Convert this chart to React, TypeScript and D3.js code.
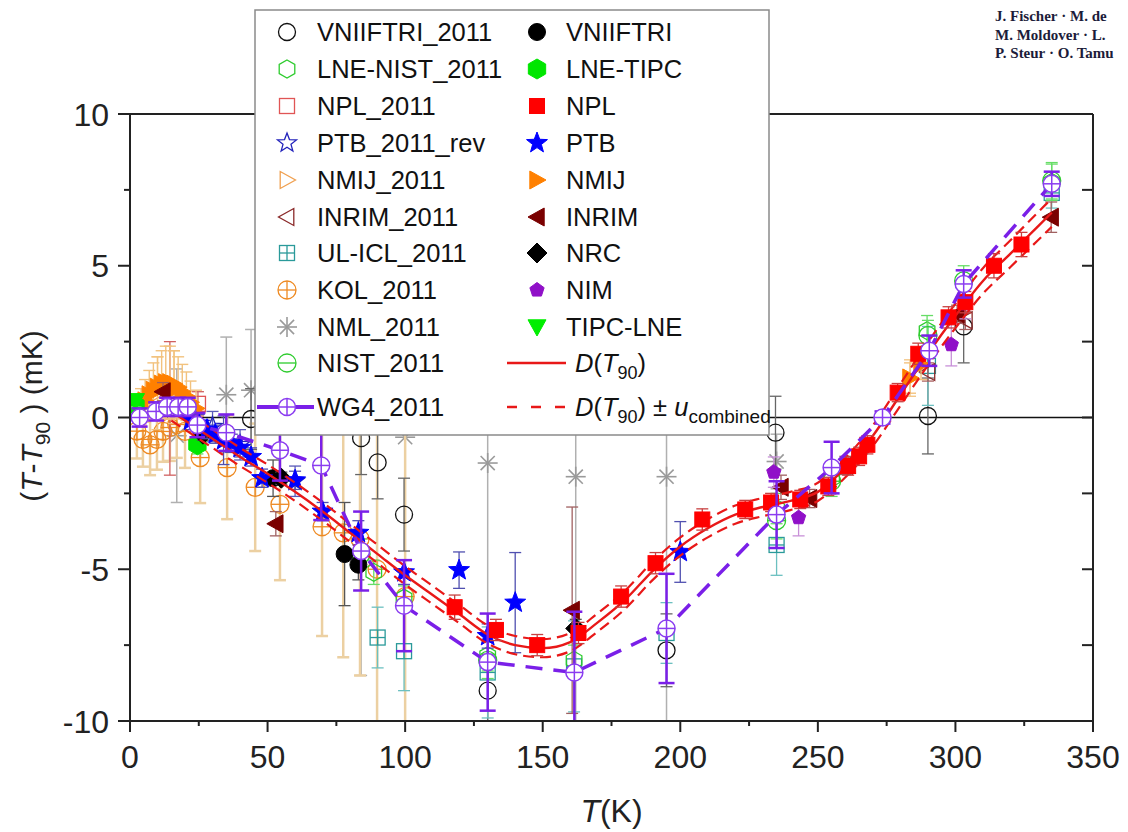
import React from 'react';
import * as d3 from 'd3';

// ---------------- axes ----------------
const xTickValues = [0, 50, 100, 150, 200, 250, 300, 350];
const xMinorValues = [25, 75, 125, 175, 225, 275, 325];
const yTickValues = [-10, -5, 0, 5, 10];
const yMinorValues = [-7.5, -2.5, 2.5, 7.5];

// ---------------- D(T90) consensus curve ----------------
const dT90_T = [15, 20, 30, 40, 50, 60, 70, 80, 90, 100, 110, 120, 130, 140, 150, 160, 170, 180, 190, 200, 210, 220, 230, 240, 250, 260, 270, 280, 290, 300, 310, 320, 330, 335];
const dT90_V = [0.2, -0.1, -0.7, -1.3, -1.85, -2.45, -3.1, -3.8, -4.5, -5.2, -5.85, -6.5, -7.15, -7.5, -7.6, -7.4, -6.75, -6.0, -5.05, -4.25, -3.65, -3.2, -2.95, -2.75, -2.45, -1.65, -0.6, 0.75, 2.1, 3.35, 4.5, 5.4, 6.3, 6.75];
const dT90_U = [0.3, 0.3, 0.3, 0.3, 0.3, 0.3, 0.3, 0.3, 0.3, 0.3, 0.3, 0.3, 0.3, 0.3, 0.3, 0.3, 0.3, 0.3, 0.3, 0.3, 0.3, 0.3, 0.3, 0.3, 0.3, 0.32, 0.34, 0.36, 0.38, 0.4, 0.42, 0.44, 0.46, 0.47];

// ---------------- data series (T in K, value in mK, error in mK) ----------------
const nml2011_T = [17, 35, 44, 84, 100, 130, 162, 195, 235];
const nml2011_V = [-0.6, 0.75, 0.9, 1.5, -0.65, -1.5, -1.95, -1.95, -1.45];
const nml2011_E = [2.2, 1.9, 2.0, 10, 9.5, 9.5, 9.5, 9.5, 0.9];

const kol2011_T = [2.5, 4.7, 7.3, 9.8, 12, 14.5, 17, 20, 25.5, 35.3, 45.5, 54.5, 69.8, 77.5, 83.6, 89.8, 100];
const kol2011_V = [-0.45, -0.72, -0.9, -0.72, -0.46, -0.33, -0.23, -0.46, -1.32, -1.65, -2.3, -2.86, -3.6, -3.8, -4.0, -5.0, -5.9];
const kol2011_E = [0.9, 0.9, 1.0, 1.0, 1.0, 1.1, 1.1, 1.2, 1.5, 1.7, 2.1, 2.5, 3.6, 4.1, 4.5, 6, 7];

const vniiftri2011_T = [44, 84, 90, 99.6, 130, 195, 234.6, 290, 303];
const vniiftri2011_V = [-0.05, -0.68, -1.48, -3.2, -9.0, -7.67, -0.5, 0.05, 3.0];
const vniiftri2011_E = [1.0, 1.2, 1.2, 1.2, 1.2, 1.2, 1.2, 1.25, 1.2];

const ulicl2011_T = [90, 99.6, 130, 161.4, 195, 235, 290, 335];
const ulicl2011_V = [-7.25, -7.7, -8.4, -8.2, -7.1, -4.2, 1.7, 7.4];
const ulicl2011_E = [1.0, 1.3, 1.5, 1.5, 1.0, 1.0, 1.3, 0.5];

const lnenist2011_T = [88.6, 99.6, 130, 161.4, 235, 255, 289.7, 335];
const lnenist2011_V = [-5.1, -5.95, -7.85, -8.0, -3.0, -2.0, 2.86, 7.75];
const lnenist2011_E = [0.4, 0.4, 0.5, 0.5, 0.5, 0.5, 0.5, 0.6];

const nist2011_T = [84, 130, 235, 255, 290, 303, 335];
const nist2011_V = [-4.5, -8.0, -3.4, -2.1, 2.7, 4.5, 7.8];
const nist2011_E = [0.5, 0.6, 0.6, 0.5, 0.5, 0.5, 0.6];

const npl2011_T = [14.5, 24.7];
const npl2011_V = [0.3, 0.45];
const npl2011_E = [2.2, 0.4];

const ptb2011_T = [30, 40, 60];
const ptb2011_V = [-0.3, -0.9, -2.1];
const ptb2011_E = [0.5, 0.5, 0.5];

const nmij2011_T = [10, 16, 283.5];
const nmij2011_V = [0.8, 1.0, 1.3];
const nmij2011_E = [1.2, 1.2, 0.6];

const inrim2011_T = [290, 303.6];
const inrim2011_V = [1.5, 3.2];
const inrim2011_E = [0.3, 0.3];

const nmij_T = [4, 5.5, 7, 8.5, 10, 11.5, 13, 14.5, 16, 17.5, 19, 20.5, 22, 24, 283.5, 287.5];
const nmij_V = [0.35, 0.55, 0.75, 0.9, 1.0, 1.1, 1.15, 1.15, 1.1, 1.0, 0.85, 0.7, 0.5, 0.3, 1.3, 1.75];
const nmij_E = [0.6, 0.7, 0.8, 0.9, 1.0, 1.1, 1.2, 1.2, 1.1, 1.0, 0.9, 0.8, 0.7, 0.6, 0.5, 0.5];

const lnetipc_T = [2, 24.5];
const lnetipc_V = [0.4, -0.9];
const lnetipc_E = [0.3, 0.3];

const tipclne_T = [2];
const tipclne_V = [0.55];
const tipclne_E = [0.2];

const vniiftri_T = [52, 78, 83];
const vniiftri_V = [-2.0, -4.5, -4.85];
const vniiftri_E = [0.6, 1.7, 0.5];

const nrc_T = [26.5, 55, 162];
const nrc_V = [-0.55, -2.0, -6.95];
const nrc_E = [0.2, 0.2, 0.3];

const inrim_T = [12, 53, 160.7, 236.6, 247, 260, 300.6, 334.8];
const inrim_V = [0.85, -3.5, -6.35, -2.3, -2.67, -1.58, 3.4, 6.6];
const inrim_E = [0.3, 0.4, 3.4, 0.4, 0.3, 0.3, 0.3, 0.5];

const nim_T = [234, 243, 298.5, 303.6];
const nim_V = [-1.8, -3.3, 2.4, 3.75];
const nim_E = [0.5, 0.6, 0.7, 0.5];

const ptb_T = [22, 25, 28, 31, 34, 37, 40, 44, 48, 60, 70, 83, 99.6, 119.6, 130, 140, 200];
const ptb_V = [-0.1, -0.2, -0.4, -0.55, -0.75, -0.85, -1.0, -1.3, -2.0, -2.07, -3.1, -3.8, -5.1, -5.03, -7.2, -6.1, -4.43];
const ptb_E = [0.3, 0.3, 0.3, 0.3, 0.8, 0.3, 0.3, 0.3, 0.3, 0.3, 0.3, 0.4, 0.4, 0.6, 0.4, 1.65, 1.0];

const npl_T = [118, 133, 148, 163, 178.5, 191, 208, 223.6, 233, 243.6, 253.8, 261, 265, 268, 279, 286.5, 297.5, 303.6, 314, 324];
const npl_V = [-6.25, -7.0, -7.5, -7.1, -5.9, -4.8, -3.36, -3.03, -2.8, -2.7, -2.27, -1.6, -1.28, -0.9, 0.82, 2.1, 3.3, 3.8, 5.0, 5.7];
const npl_E = [0.4, 0.35, 0.35, 0.35, 0.35, 0.35, 0.35, 0.3, 0.3, 0.3, 0.3, 0.3, 0.3, 0.3, 0.3, 0.35, 0.35, 0.35, 0.4, 0.4];

const wg4_T = [3.5, 9.5, 13.5, 17.5, 21, 24.5, 35, 54.5, 69.5, 84, 99.6, 130, 161.5, 195, 235, 255, 273.5, 290.5, 303, 335];
const wg4_V = [0.0, 0.2, 0.35, 0.35, 0.35, -0.25, -0.5, -1.08, -1.58, -4.4, -6.2, -8.06, -8.4, -6.95, -3.2, -1.65, 0.0, 2.2, 4.4, 7.7];
const wg4_E = [0.3, 0.3, 0.3, 0.3, 0.3, 0.4, 0.6, 1.0, 1.8, 1.3, 1.5, 1.6, 2.0, 1.8, 1.1, 0.85, 0.2, 0.5, 0.45, 0.4];

// ---------------- legend labels ----------------
const legendCol1 = ['VNIIFTRI_2011', 'LNE-NIST_2011', 'NPL_2011', 'PTB_2011_rev', 'NMIJ_2011', 'INRIM_2011', 'UL-ICL_2011', 'KOL_2011', 'NML_2011', 'NIST_2011', 'WG4_2011'];
const legendCol2 = ['VNIIFTRI', 'LNE-TIPC', 'NPL', 'PTB', 'NMIJ', 'INRIM', 'NRC', 'NIM', 'TIPC-LNE'];

const NB = '\u00A0';
const headerLines = [`J. Fischer${NB}·${NB}M.${NB}de`, `M. Moldover${NB}·${NB}L.`, `P. Steur${NB}·${NB}O. Tamu`];

type Style = { shape: string; stroke: string; fill: string; r: number; sw: number; err: string; errW: number; cap: number };

const S: Record<string, Style> = {
  'NML_2011': { shape: 'asterisk', stroke: '#9a9a9a', fill: 'none', r: 10, sw: 1.6, err: '#b0b0b0', errW: 1.5, cap: 6 },
  'KOL_2011': { shape: 'circlePlus', stroke: '#ee8a22', fill: 'none', r: 9, sw: 1.3, err: '#ecd0a2', errW: 2.5, cap: 6 },
  'VNIIFTRI_2011': { shape: 'circle', stroke: '#111', fill: 'none', r: 8.5, sw: 1.3, err: '#666', errW: 1.3, cap: 6 },
  'UL-ICL_2011': { shape: 'squarePlus', stroke: '#2a9a9a', fill: 'none', r: 7.5, sw: 1.3, err: '#6cc0c0', errW: 1.3, cap: 6 },
  'LNE-NIST_2011': { shape: 'hex', stroke: '#2ecc2e', fill: 'none', r: 9, sw: 1.3, err: '#66dd66', errW: 1.3, cap: 6 },
  'NIST_2011': { shape: 'circleBar', stroke: '#2ecc2e', fill: 'none', r: 9, sw: 1.3, err: '#66dd66', errW: 1.3, cap: 6 },
  'NPL_2011': { shape: 'square', stroke: '#e05555', fill: 'none', r: 7.5, sw: 1.3, err: '#d06060', errW: 1.3, cap: 6 },
  'PTB_2011_rev': { shape: 'star', stroke: '#2222bb', fill: 'none', r: 10, sw: 1.3, err: '#5a5ab8', errW: 1.3, cap: 6 },
  'NMIJ_2011': { shape: 'triR', stroke: '#f0a050', fill: 'none', r: 8.5, sw: 1.3, err: '#f2c27e', errW: 1.3, cap: 6 },
  'INRIM_2011': { shape: 'triL', stroke: '#8b2a2a', fill: 'none', r: 8.5, sw: 1.3, err: '#a86060', errW: 1.3, cap: 6 },
  'NMIJ': { shape: 'triR', stroke: '#ff8000', fill: '#ff8000', r: 9, sw: 1, err: '#f2c27e', errW: 1.4, cap: 6 },
  'LNE-TIPC': { shape: 'hex', stroke: '#00e600', fill: '#00e600', r: 10, sw: 1, err: '#66dd66', errW: 1.3, cap: 6 },
  'TIPC-LNE': { shape: 'triD', stroke: '#00ee00', fill: '#00ee00', r: 9, sw: 1, err: '#66dd66', errW: 1.3, cap: 6 },
  'VNIIFTRI': { shape: 'circle', stroke: '#000', fill: '#000', r: 8.5, sw: 1, err: '#555', errW: 1.3, cap: 6 },
  'NRC': { shape: 'diamond', stroke: '#000', fill: '#000', r: 10, sw: 1, err: '#555', errW: 1.3, cap: 6 },
  'INRIM': { shape: 'triL', stroke: '#7a0000', fill: '#7a0000', r: 9, sw: 1, err: '#a06060', errW: 1.3, cap: 6 },
  'NIM': { shape: 'pent', stroke: '#9010c8', fill: '#9010c8', r: 7.5, sw: 1, err: '#c890d8', errW: 1.3, cap: 6 },
  'PTB': { shape: 'star', stroke: '#0000ff', fill: '#0000ff', r: 11, sw: 1, err: '#5050b0', errW: 1.3, cap: 6 },
  'NPL': { shape: 'square', stroke: '#ff0000', fill: '#ff0000', r: 7.5, sw: 1, err: '#c84040', errW: 1.3, cap: 6 },
  'WG4_2011': { shape: 'circlePlus', stroke: '#8a3cf0', fill: '#ffffff', r: 8.5, sw: 1.5, err: '#7a1fe8', errW: 2.5, cap: 8 },
};

const FONT = "'Liberation Sans', Arial, Helvetica, sans-serif";
const RED = '#e81818';
const PURPLE = '#7a1fe8';

function poly(n: number, r: number, start: number) {
  const pts: string[] = [];
  for (let i = 0; i < n; i++) {
    const a = start + (i * 2 * Math.PI) / n;
    pts.push(`${(r * Math.cos(a)).toFixed(2)},${(r * Math.sin(a)).toFixed(2)}`);
  }
  return pts.join(' ');
}
function starPts(r: number) {
  const pts: string[] = [];
  for (let i = 0; i < 10; i++) {
    const a = -Math.PI / 2 + (i * Math.PI) / 5;
    const rr = i % 2 ? r * 0.42 : r;
    pts.push(`${(rr * Math.cos(a)).toFixed(2)},${(rr * Math.sin(a)).toFixed(2)}`);
  }
  return pts.join(' ');
}

function Marker({ st, cx, cy }: { st: Style; cx: number; cy: number }) {
  const r = st.r;
  const p = { stroke: st.stroke, fill: st.fill, strokeWidth: st.sw };
  const ln = (x1: number, y1: number, x2: number, y2: number, k: string) => (
    <line key={k} x1={x1} y1={y1} x2={x2} y2={y2} stroke={st.stroke} strokeWidth={st.sw} />
  );
  let inner: React.ReactNode = null;
  switch (st.shape) {
    case 'circle':
      inner = <circle r={r} {...p} />;
      break;
    case 'circlePlus':
      inner = [<circle key="c" r={r} {...p} />, ln(-r, 0, r, 0, 'h'), ln(0, -r, 0, r, 'v')];
      break;
    case 'circleBar':
      inner = [<circle key="c" r={r} {...p} />, ln(-r, 0, r, 0, 'h')];
      break;
    case 'square':
      inner = <rect x={-r} y={-r} width={2 * r} height={2 * r} {...p} />;
      break;
    case 'squarePlus':
      inner = [<rect key="s" x={-r} y={-r} width={2 * r} height={2 * r} {...p} />, ln(-r, 0, r, 0, 'h'), ln(0, -r, 0, r, 'v')];
      break;
    case 'hex':
      inner = <polygon points={poly(6, r, -Math.PI / 2)} {...p} />;
      break;
    case 'pent':
      inner = <polygon points={poly(5, r, -Math.PI / 2)} {...p} />;
      break;
    case 'star':
      inner = <polygon points={starPts(r)} {...p} />;
      break;
    case 'triR':
      inner = <polygon points={`${-0.8 * r},${-r} ${r},0 ${-0.8 * r},${r}`} {...p} />;
      break;
    case 'triL':
      inner = <polygon points={`${0.8 * r},${-r} ${-r},0 ${0.8 * r},${r}`} {...p} />;
      break;
    case 'triD':
      inner = <polygon points={`${-r},${-0.8 * r} ${r},${-0.8 * r} 0,${r}`} {...p} />;
      break;
    case 'diamond':
      inner = <polygon points={`0,${-r} ${r},0 0,${r} ${-r},0`} {...p} />;
      break;
    case 'asterisk': {
      const d = r * 0.707;
      inner = [ln(-r, 0, r, 0, 'a'), ln(0, -r, 0, r, 'b'), ln(-d, -d, d, d, 'c'), ln(-d, d, d, -d, 'e')];
      break;
    }
  }
  return <g transform={`translate(${cx},${cy})`}>{inner}</g>;
}

type Series = { key: string; T: number[]; V: number[]; E: number[] };

const seriesBack: Series[] = [
  { key: 'NML_2011', T: nml2011_T, V: nml2011_V, E: nml2011_E },
  { key: 'KOL_2011', T: kol2011_T, V: kol2011_V, E: kol2011_E },
  { key: 'VNIIFTRI_2011', T: vniiftri2011_T, V: vniiftri2011_V, E: vniiftri2011_E },
  { key: 'UL-ICL_2011', T: ulicl2011_T, V: ulicl2011_V, E: ulicl2011_E },
  { key: 'LNE-NIST_2011', T: lnenist2011_T, V: lnenist2011_V, E: lnenist2011_E },
  { key: 'NIST_2011', T: nist2011_T, V: nist2011_V, E: nist2011_E },
  { key: 'NPL_2011', T: npl2011_T, V: npl2011_V, E: npl2011_E },
  { key: 'PTB_2011_rev', T: ptb2011_T, V: ptb2011_V, E: ptb2011_E },
  { key: 'NMIJ_2011', T: nmij2011_T, V: nmij2011_V, E: nmij2011_E },
  { key: 'INRIM_2011', T: inrim2011_T, V: inrim2011_V, E: inrim2011_E },
  { key: 'NMIJ', T: nmij_T, V: nmij_V, E: nmij_E },
  { key: 'LNE-TIPC', T: lnetipc_T, V: lnetipc_V, E: lnetipc_E },
  { key: 'TIPC-LNE', T: tipclne_T, V: tipclne_V, E: tipclne_E },
  { key: 'VNIIFTRI', T: vniiftri_T, V: vniiftri_V, E: vniiftri_E },
  { key: 'NRC', T: nrc_T, V: nrc_V, E: nrc_E },
  { key: 'INRIM', T: inrim_T, V: inrim_V, E: inrim_E },
  { key: 'NIM', T: nim_T, V: nim_V, E: nim_E },
  { key: 'PTB', T: ptb_T, V: ptb_V, E: ptb_E },
];
const seriesFront: Series[] = [
  { key: 'NPL', T: npl_T, V: npl_V, E: npl_E },
];
const wg4Series: Series = { key: 'WG4_2011', T: wg4_T, V: wg4_V, E: wg4_E };

export default function App() {
  const x = d3.scaleLinear().domain([0, 350]).range([130, 1093]);
  const y = d3.scaleLinear().domain([-10, 10]).range([721, 114]);
  const [x0, x1] = x.range();
  const [yb, yt] = y.range();

  const renderSeries = (s: Series) => {
    const st = S[s.key];
    return (
      <g key={s.key}>
        {s.T.map((t, i) => {
          const cx = x(t);
          const ya = y(s.V[i] + s.E[i]);
          const yc = y(s.V[i] - s.E[i]);
          return (
            <g key={'e' + i} stroke={st.err} strokeWidth={st.errW}>
              <line x1={cx} x2={cx} y1={ya} y2={yc} />
              <line x1={cx - st.cap} x2={cx + st.cap} y1={ya} y2={ya} />
              <line x1={cx - st.cap} x2={cx + st.cap} y1={yc} y2={yc} />
            </g>
          );
        })}
        {s.T.map((t, i) => (
          <Marker key={'m' + i} st={st} cx={x(t)} cy={y(s.V[i])} />
        ))}
      </g>
    );
  };

  const dLine = d3.line<number>().x((_, i) => x(dT90_T[i])).y((v) => y(v)).curve(d3.curveMonotoneX);
  const dMain = dLine(dT90_V) || '';
  const dUp = dLine(dT90_V.map((v, i) => v + dT90_U[i])) || '';
  const dLo = dLine(dT90_V.map((v, i) => v - dT90_U[i])) || '';
  const wg4Line = d3.line<number>().x((_, i) => x(wg4_T[i])).y((v) => y(v))(wg4_V) || '';

  const rowY = [32, 69, 106, 143, 180, 217, 253, 290, 327, 363, 407];
  const c1Sym = 287, c1Txt = 317, c2Sym = 537, c2Txt = 566;

  return (
    <svg width={1128} height={832} style={{ position: 'absolute', left: 0, top: 0, background: '#fff' }} fontFamily={FONT}>
      <rect x={0} y={0} width={1128} height={832} fill="#fff" />
      <defs>
        <clipPath id="plotClip">
          <rect x={x0} y={yt} width={x1 - x0} height={yb - yt} />
        </clipPath>
      </defs>

      {/* header text */}
      {headerLines.map((t, i) => (
        <text key={i} x={995} y={21 + i * 18.5} fontFamily="'Liberation Serif', 'Times New Roman', serif" fontWeight="bold" fontSize={15} fill="#1c1c3a">
          {t}
        </text>
      ))}

      {/* zero line */}
      <line x1={x0} x2={x1} y1={y(0)} y2={y(0)} stroke="#111" strokeWidth={1.6} />

      <g clipPath="url(#plotClip)">
        {seriesBack.map(renderSeries)}
        <path d={dUp} fill="none" stroke={RED} strokeWidth={2.2} strokeDasharray="11,6" />
        <path d={dLo} fill="none" stroke={RED} strokeWidth={2.2} strokeDasharray="11,6" />
        <path d={dMain} fill="none" stroke={RED} strokeWidth={2.4} />
        {seriesFront.map(renderSeries)}
        <path d={wg4Line} fill="none" stroke={PURPLE} strokeWidth={3.5} strokeDasharray="17,11" />
        {renderSeries(wg4Series)}
      </g>

      {/* frame */}
      <g stroke="#222" strokeWidth={2} fill="none">
        <line x1={x0} x2={x0} y1={yt} y2={yb} />
        <line x1={x1} x2={x1} y1={yt} y2={yb} />
        <line x1={x0} x2={x1} y1={yb} y2={yb} />
        <line x1={x0 - 12} x2={x1} y1={yt} y2={yt} />
        {yTickValues.map((v) => (
          <line key={'yl' + v} x1={x0 - 12} x2={x0} y1={y(v)} y2={y(v)} />
        ))}
        {yMinorValues.map((v) => (
          <line key={'ym' + v} x1={x0 - 6} x2={x0} y1={y(v)} y2={y(v)} />
        ))}
        {yTickValues.concat(yMinorValues).map((v) => (
          <line key={'yr' + v} x1={x1 - 11} x2={x1} y1={y(v)} y2={y(v)} />
        ))}
        {xTickValues.map((v) => (
          <line key={'xl' + v} x1={x(v)} x2={x(v)} y1={yb} y2={yb + 11} />
        ))}
        {xMinorValues.map((v) => (
          <line key={'xm' + v} x1={x(v)} x2={x(v)} y1={yb} y2={yb + 5} />
        ))}
      </g>

      {/* tick labels */}
      {yTickValues.map((v) => (
        <text key={'ytl' + v} x={109} y={y(v) + 11.5} textAnchor="end" fontSize={32} fill="#222">
          {String(v)}
        </text>
      ))}
      {xTickValues.map((v) => (
        <text key={'xtl' + v} x={x(v)} y={768} textAnchor="middle" fontSize={32} fill="#222">
          {String(v)}
        </text>
      ))}

      {/* axis titles */}
      <text x={(x0 + x1) / 2} y={822} textAnchor="middle" fontSize={32} fill="#222">
        <tspan fontStyle="italic">T</tspan>(K)
      </text>
      <text transform={`translate(42,416) rotate(-90)`} textAnchor="middle" fontSize={30} fill="#222">
        (<tspan fontStyle="italic">T</tspan>-<tspan fontStyle="italic">T</tspan>
        <tspan fontSize={21} dy={8}>90</tspan>
        <tspan dy={-8}> ) (mK)</tspan>
      </text>

      {/* legend */}
      <rect x={255} y={10} width={514} height={425} fill="#fff" stroke="#8a8a8a" strokeWidth={1.5} />
      {legendCol1.map((name, i) => (
        <g key={'l1' + name}>
          {name === 'WG4_2011' && <line x1={257} x2={314} y1={rowY[i]} y2={rowY[i]} stroke={PURPLE} strokeWidth={4} />}
          <Marker st={S[name]} cx={c1Sym} cy={rowY[i]} />
          <text x={c1Txt} y={rowY[i] + 9} fontSize={25.5} fill="#111">
            {name}
          </text>
        </g>
      ))}
      {legendCol2.map((name, i) => (
        <g key={'l2' + name}>
          <Marker st={S[name]} cx={c2Sym} cy={rowY[i]} />
          <text x={c2Txt} y={rowY[i] + 9} fontSize={25.5} fill="#111">
            {name}
          </text>
        </g>
      ))}
      <line x1={507} x2={566} y1={rowY[9]} y2={rowY[9]} stroke={RED} strokeWidth={2.4} />
      <text x={575} y={rowY[9] + 9} fontSize={25.5} fill="#111">
        <tspan fontStyle="italic">D</tspan>(<tspan fontStyle="italic">T</tspan>
        <tspan fontSize={18} dy={7}>90</tspan>
        <tspan dy={-7}>)</tspan>
      </text>
      <line x1={507} x2={566} y1={rowY[10]} y2={rowY[10]} stroke={RED} strokeWidth={2.4} strokeDasharray="10,14" />
      <text x={575} y={rowY[10] + 9} fontSize={25.5} fill="#111">
        <tspan fontStyle="italic">D</tspan>(<tspan fontStyle="italic">T</tspan>
        <tspan fontSize={18} dy={7}>90</tspan>
        <tspan dy={-7}>) ± </tspan>
        <tspan fontStyle="italic">u</tspan>
        <tspan fontSize={19} dy={7}>combined</tspan>
      </text>
    </svg>
  );
}
